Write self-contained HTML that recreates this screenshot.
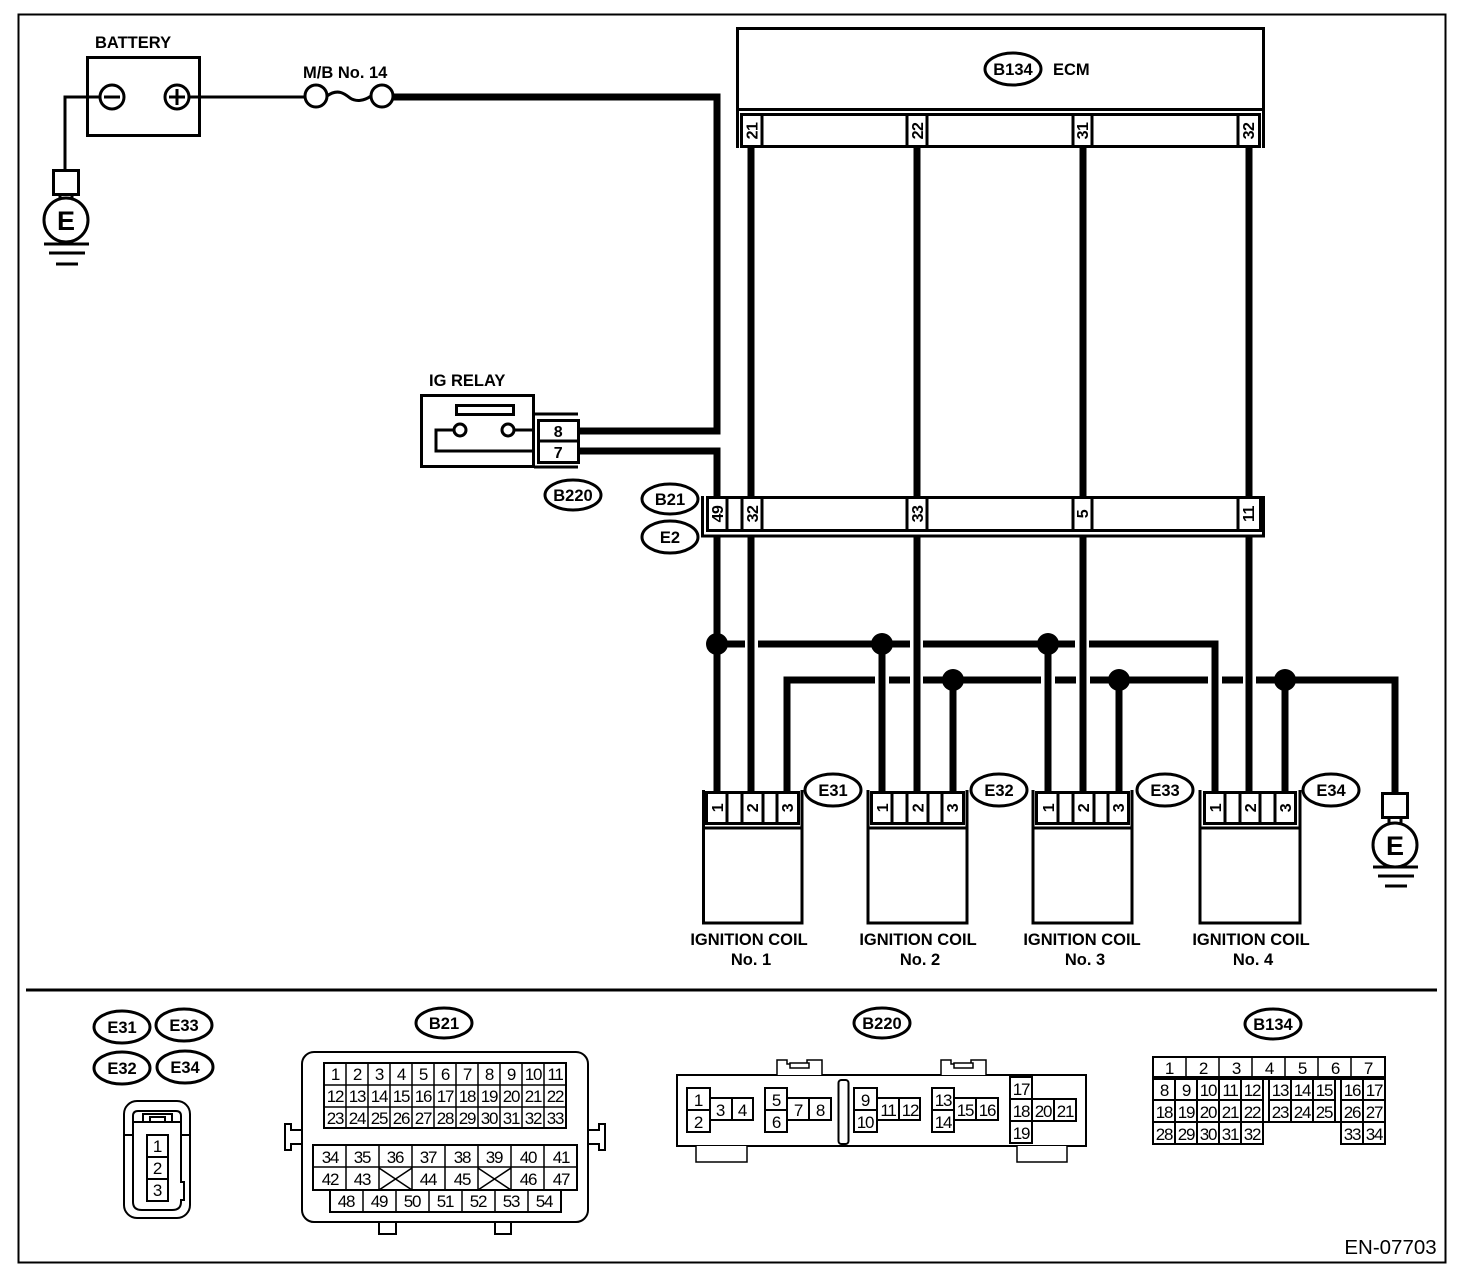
<!DOCTYPE html>
<html><head><meta charset="utf-8"><style>
html,body{margin:0;padding:0;background:#fff}
svg{display:block}
text{font-family:"Liberation Sans",sans-serif;fill:#000;stroke:none;text-anchor:middle}
.b{font-weight:bold;font-size:16.500px}
.l{font-weight:bold;font-size:16.500px;text-anchor:start}
.p{font-weight:bold;font-size:16px;letter-spacing:-.5px}
.g{font-size:17px;letter-spacing:-1.200px}
.t{stroke:#000;stroke-width:7;fill:none}
.m{stroke:#000;stroke-width:3;fill:none}
.s{stroke:#000;stroke-width:2;fill:none}
.o{stroke:#000;stroke-width:3;fill:#fff}
.c{stroke:#000;stroke-width:1.500;fill:#fff}
</style></head><body>
<svg xmlns="http://www.w3.org/2000/svg" width="1472" height="1274" viewBox="0 0 1472 1274">
<rect width="1472" height="1274" fill="#fff"/>
<rect x="18.500" y="14.500" width="1427" height="1248" class="s"/>

<!-- thick wires -->
<path class="t" d="M393 97H717V431H578M578 451H717V497"/>
<path class="t" d="M751 147V497M917 147V497M1083 147V497M1249 147V497"/>
<path class="t" d="M717 536V792M751 536V792M917 536V792M1083 536V792M1249 536V792"/>
<path class="t" d="M717 644H745M758 644H910M923 644H1075M1089 644H1215V792"/>
<path class="t" d="M787 792V680H875M889 680H910M923 680H1041M1055 680H1076M1090 680H1208M1222 680H1243M1256 680H1395V793"/>
<path class="t" d="M882 644V792M1048 644V792M953 680V792M1119 680V792M1285 680V792"/>
<g fill="#000"><circle cx="717" cy="644" r="11"/><circle cx="882" cy="644" r="11"/><circle cx="1048" cy="644" r="11"/><circle cx="953" cy="680" r="11"/><circle cx="1119" cy="680" r="11"/><circle cx="1285" cy="680" r="11"/></g>

<!-- battery -->
<text class="l" x="95" y="48">BATTERY</text>
<rect x="87.500" y="57.500" width="112" height="78" class="m"/>
<path class="m" d="M100 97H65V170M189 97H305"/>
<circle cx="112" cy="97" r="12" class="o"/><path class="m" d="M104 97H120"/>
<circle cx="177" cy="97" r="12" class="o"/><path class="m" d="M169 97H185M177 89V105"/>
<text class="l" x="303" y="78">M/B No. 14</text>
<circle cx="316" cy="96" r="11" class="o"/><circle cx="382" cy="96" r="11" class="o"/>
<path class="m" d="M327 96C338 88 345 94 350 98C356 102 364 101 371 96"/>

<!-- ground 1 -->
<rect x="53.500" y="170.500" width="25" height="24" class="m"/>
<path class="m" d="M60 195V202M72 195V202"/>
<circle cx="66" cy="220" r="22" class="o"/>
<text x="66" y="230" style="font-weight:bold;font-size:27px">E</text>
<path class="m" d="M44 244H89M49 253H85M56 264H78"/>

<!-- ground 2 -->
<rect x="1382.500" y="793.500" width="25" height="24" class="m"/>
<path class="m" d="M1389 818V825M1401 818V825"/>
<circle cx="1395" cy="845" r="22" class="o"/>
<text x="1395" y="855" style="font-weight:bold;font-size:27px">E</text>
<path class="m" d="M1373 867H1418M1378 876H1414M1385 886H1407"/>

<!-- ECM -->
<rect x="737.500" y="28.500" width="526" height="81" class="m" fill="#fff"/>
<ellipse cx="1013" cy="69" rx="28" ry="16" class="o"/>
<text class="b" x="1013" y="75">B134</text>
<text class="l" x="1053" y="75">ECM</text>
<path class="m" d="M737.500 109V148M1263.500 109V148"/>
<rect x="741.500" y="114.500" width="518" height="32" class="m" fill="#fff"/>
<g class="m"><path d="M762 114V146M907 114V146M927 114V146M1073 114V146M1092 114V146M1238 114V146"/></g>
<text class="p" transform="translate(757.500,131) rotate(-90)">21</text>
<text class="p" transform="translate(923,131) rotate(-90)">22</text>
<text class="p" transform="translate(1088,131) rotate(-90)">31</text>
<text class="p" transform="translate(1254,131) rotate(-90)">32</text>

<!-- IG relay -->
<text class="l" x="429" y="386">IG RELAY</text>
<rect x="421.500" y="395.500" width="112" height="71" class="m"/>
<rect x="456.500" y="405.500" width="57" height="9" class="m"/>
<path class="m" d="M454 430H436V451H534M514 430H534M534 414H578M534 467H578"/>
<circle cx="460" cy="430" r="6" class="o"/><circle cx="508" cy="430" r="6" class="o"/>
<rect x="538.500" y="420.500" width="40" height="42" class="m" fill="#fff"/>
<path class="m" d="M538 441H578"/>
<text class="p" x="558" y="437">8</text>
<text class="p" x="558" y="458">7</text>
<ellipse cx="573" cy="495" rx="28" ry="15" class="o"/><text class="b" x="573" y="501">B220</text>
<ellipse cx="670" cy="499" rx="28" ry="15" class="o"/><text class="b" x="670" y="505">B21</text>
<ellipse cx="670" cy="537" rx="28" ry="16" class="o"/><text class="b" x="670" y="543">E2</text>

<!-- B21/E2 inline connector -->
<path class="m" d="M702.500 496V536H1263.500V496"/>
<rect x="707.500" y="497.500" width="553" height="33" class="m" fill="#fff"/>
<path class="m" d="M727 498V530M742 498V530M762 498V530M907 498V530M927 498V530M1073 498V530M1092 498V530M1238 498V530"/>
<text class="p" transform="translate(723,514) rotate(-90)">49</text>
<text class="p" transform="translate(758,514) rotate(-90)">32</text>
<text class="p" transform="translate(923,514) rotate(-90)">33</text>
<text class="p" transform="translate(1088,514) rotate(-90)">5</text>
<text class="p" transform="translate(1254,514) rotate(-90)">11</text>

<!-- coils -->
<path class="m" d="M703.500 790V923H802V790M703 828H802"/>
<rect x="706.500" y="792.500" width="92" height="31" class="m" fill="#fff"/>
<path class="m" d="M727 792V823M742 792V823M763 792V823M777 792V823"/>
<text class="p" transform="translate(723,808) rotate(-90)">1</text>
<text class="p" transform="translate(758,808) rotate(-90)">2</text>
<text class="p" transform="translate(793,808) rotate(-90)">3</text>
<path class="m" d="M868 790V923H967V790M868 828H967"/>
<rect x="871.500" y="792.500" width="92" height="31" class="m" fill="#fff"/>
<path class="m" d="M892 792V823M907 792V823M928 792V823M942 792V823"/>
<text class="p" transform="translate(888,808) rotate(-90)">1</text>
<text class="p" transform="translate(923.500,808) rotate(-90)">2</text>
<text class="p" transform="translate(958,808) rotate(-90)">3</text>
<path class="m" d="M1033 790V923H1132V790M1033 828H1132"/>
<rect x="1036.500" y="792.500" width="92" height="31" class="m" fill="#fff"/>
<path class="m" d="M1058 792V823M1073 792V823M1094 792V823M1108 792V823"/>
<text class="p" transform="translate(1054,808) rotate(-90)">1</text>
<text class="p" transform="translate(1089,808) rotate(-90)">2</text>
<text class="p" transform="translate(1124,808) rotate(-90)">3</text>
<path class="m" d="M1200 790V923H1300V790M1200 828H1300"/>
<rect x="1204.500" y="792.500" width="91" height="31" class="m" fill="#fff"/>
<path class="m" d="M1225 792V823M1240 792V823M1260 792V823M1275 792V823"/>
<text class="p" transform="translate(1221,808) rotate(-90)">1</text>
<text class="p" transform="translate(1256,808) rotate(-90)">2</text>
<text class="p" transform="translate(1291,808) rotate(-90)">3</text>

<ellipse cx="833" cy="790" rx="28" ry="16" class="o"/><text class="b" x="833" y="796">E31</text>
<ellipse cx="999" cy="790" rx="28" ry="16" class="o"/><text class="b" x="999" y="796">E32</text>
<ellipse cx="1165" cy="790" rx="28" ry="16" class="o"/><text class="b" x="1165" y="796">E33</text>
<ellipse cx="1331" cy="790" rx="28" ry="16" class="o"/><text class="b" x="1331" y="796">E34</text>

<text class="b" x="749" y="945">IGNITION COIL</text><text class="b" x="751" y="965">No. 1</text>
<text class="b" x="918" y="945">IGNITION COIL</text><text class="b" x="920" y="965">No. 2</text>
<text class="b" x="1082" y="945">IGNITION COIL</text><text class="b" x="1085" y="965">No. 3</text>
<text class="b" x="1251" y="945">IGNITION COIL</text><text class="b" x="1253" y="965">No. 4</text>

<path d="M26 990H1437" stroke="#000" stroke-width="3"/>

<!-- bottom legend: coil -->
<ellipse cx="122" cy="1027" rx="28" ry="16" class="o"/><text class="b" x="122" y="1033">E31</text>
<ellipse cx="184" cy="1025" rx="28" ry="16" class="o"/><text class="b" x="184" y="1031">E33</text>
<ellipse cx="122" cy="1068" rx="28" ry="16" class="o"/><text class="b" x="122" y="1074">E32</text>
<ellipse cx="185" cy="1067" rx="28" ry="16" class="o"/><text class="b" x="185" y="1073">E34</text>
<rect x="124" y="1101" width="66" height="117" rx="13" class="s"/>
<path class="s" d="M133 1135V1122V1116Q133 1111 138 1111H176Q181 1111 181 1116V1182H184V1200H181V1202Q181 1210 172 1210H142Q133 1210 133 1202V1135M124 1135H133M181 1135H190M133 1122H181"/>
<path class="s" d="M143 1122V1114H172V1122M150 1122V1117H165V1122"/>
<rect x="147" y="1135" width="21" height="66" class="s" fill="#fff"/>
<path class="s" d="M147 1157H168M147 1179H168"/>
<text class="g" x="157" y="1152">1</text><text class="g" x="157" y="1174">2</text><text class="g" x="157" y="1196">3</text>

<!-- B21 -->
<ellipse cx="444" cy="1023" rx="28" ry="15" class="o"/><text class="b" x="444" y="1029">B21</text>
<rect x="302" y="1052" width="286" height="170" rx="12" class="s"/>
<path class="s" d="M302 1130H291V1124H285V1150H291V1144H302M588 1130H599V1124H605V1150H599V1144H588M379 1222V1234H396V1222M495 1222V1234H511V1222"/>
<rect x="324" y="1063" width="242" height="65" class="s"/>
<path class="c" d="M346 1063V1128M368 1063V1128M390 1063V1128M412 1063V1128M434 1063V1128M456 1063V1128M478 1063V1128M500 1063V1128M522 1063V1128M544 1063V1128M324 1085H566M324 1107H566"/>
<g class="g">
<text x="335" y="1080">1</text><text x="357" y="1080">2</text><text x="379" y="1080">3</text><text x="401" y="1080">4</text><text x="423" y="1080">5</text><text x="445" y="1080">6</text><text x="467" y="1080">7</text><text x="489" y="1080">8</text><text x="511" y="1080">9</text><text x="533" y="1080">10</text><text x="555" y="1080">11</text>
<text x="335" y="1102">12</text><text x="357" y="1102">13</text><text x="379" y="1102">14</text><text x="401" y="1102">15</text><text x="423" y="1102">16</text><text x="445" y="1102">17</text><text x="467" y="1102">18</text><text x="489" y="1102">19</text><text x="511" y="1102">20</text><text x="533" y="1102">21</text><text x="555" y="1102">22</text>
<text x="335" y="1124">23</text><text x="357" y="1124">24</text><text x="379" y="1124">25</text><text x="401" y="1124">26</text><text x="423" y="1124">27</text><text x="445" y="1124">28</text><text x="467" y="1124">29</text><text x="489" y="1124">30</text><text x="511" y="1124">31</text><text x="533" y="1124">32</text><text x="555" y="1124">33</text>
</g>
<rect x="313" y="1145" width="264" height="45" class="s"/>
<path class="c" d="M346 1145V1190M379 1145V1190M412 1145V1190M445 1145V1190M478 1145V1190M511 1145V1190M544 1145V1190M313 1167H577M379 1168L412 1190M412 1168L379 1190M478 1168L511 1190M511 1168L478 1190"/>
<rect x="330" y="1190" width="231" height="22" class="s"/>
<path class="c" d="M363 1190V1212M396 1190V1212M429 1190V1212M462 1190V1212M495 1190V1212M528 1190V1212"/>
<g class="g">
<text x="330" y="1163">34</text><text x="362" y="1163">35</text><text x="395" y="1163">36</text><text x="428" y="1163">37</text><text x="462" y="1163">38</text><text x="494" y="1163">39</text><text x="528" y="1163">40</text><text x="561" y="1163">41</text>
<text x="330" y="1185">42</text><text x="362" y="1185">43</text><text x="428" y="1185">44</text><text x="462" y="1185">45</text><text x="528" y="1185">46</text><text x="561" y="1185">47</text>
<text x="346" y="1207">48</text><text x="379" y="1207">49</text><text x="412" y="1207">50</text><text x="445" y="1207">51</text><text x="478" y="1207">52</text><text x="511" y="1207">53</text><text x="544" y="1207">54</text>
</g>

<!-- B220 -->
<ellipse cx="882" cy="1023" rx="28" ry="15" class="o"/><text class="b" x="882" y="1029">B220</text>
<rect x="677" y="1075" width="409" height="71" class="s"/>
<path class="c" d="M777 1075V1060H787V1064H807V1060H822V1075M941 1075V1060H951V1064H971V1060H986V1075M696 1146V1162H747V1146M1017 1146V1162H1067V1146"/>
<rect x="790" y="1063" width="19" height="5" class="c"/><rect x="954" y="1063" width="19" height="5" class="c"/>
<rect x="838.500" y="1080" width="10" height="64" rx="3" class="s"/>
<g class="s">
<rect x="687" y="1088" width="23" height="44"/><path d="M687 1110H710"/><rect x="710" y="1098" width="43" height="22"/><path d="M732 1098V1120"/>
<rect x="765" y="1088" width="22" height="44"/><path d="M765 1110H787"/><rect x="787" y="1098" width="44" height="22"/><path d="M809 1098V1120"/>
<rect x="854" y="1088" width="23" height="44"/><path d="M854 1110H877"/><rect x="877" y="1098" width="43" height="22"/><path d="M899 1098V1120"/>
<rect x="932" y="1088" width="22" height="44"/><path d="M932 1110H954"/><rect x="954" y="1098" width="44" height="22"/><path d="M976 1098V1120"/>
<rect x="1010" y="1077" width="22" height="66"/><path d="M1010 1099H1032M1010 1121H1032"/><rect x="1032" y="1099" width="44" height="22"/><path d="M1054 1099V1121"/>
</g>
<g class="g">
<text x="698" y="1106">1</text><text x="698" y="1128">2</text><text x="720" y="1116">3</text><text x="742" y="1116">4</text>
<text x="776" y="1106">5</text><text x="776" y="1128">6</text><text x="798" y="1116">7</text><text x="820" y="1116">8</text>
<text x="865" y="1106">9</text><text x="865" y="1128">10</text><text x="888" y="1116">11</text><text x="910" y="1116">12</text>
<text x="943" y="1106">13</text><text x="943" y="1128">14</text><text x="965" y="1116">15</text><text x="987" y="1116">16</text>
<text x="1021" y="1095">17</text><text x="1021" y="1117">18</text><text x="1021" y="1139">19</text><text x="1043" y="1117">20</text><text x="1065" y="1117">21</text>
</g>

<!-- B134 -->
<ellipse cx="1273" cy="1024" rx="28" ry="15" class="o"/><text class="b" x="1273" y="1030">B134</text>
<rect x="1153" y="1057" width="232" height="20" class="s"/>
<path class="c" d="M1186 1057V1077M1219 1057V1077M1252 1057V1077M1285 1057V1077M1318 1057V1077M1351 1057V1077"/>
<g class="s">
<rect x="1153" y="1079" width="110" height="65"/>
<path d="M1175 1079V1144M1197 1079V1144M1219 1079V1144M1241 1079V1144M1153 1100H1263M1153 1122H1263"/>
<rect x="1263" y="1079" width="6" height="43"/>
<rect x="1269" y="1079" width="66" height="43"/>
<path d="M1291 1079V1122M1313 1079V1122M1269 1100H1335"/>
<rect x="1335" y="1079" width="6" height="43"/>
<rect x="1341" y="1079" width="44" height="65"/>
<path d="M1363 1079V1144M1341 1100H1385M1341 1122H1385"/>
</g>
<g class="g">
<text x="1169" y="1074">1</text><text x="1203" y="1074">2</text><text x="1236" y="1074">3</text><text x="1269" y="1074">4</text><text x="1302" y="1074">5</text><text x="1335" y="1074">6</text><text x="1368" y="1074">7</text>
<text x="1164" y="1096">8</text><text x="1186" y="1096">9</text><text x="1208" y="1096">10</text><text x="1230" y="1096">11</text><text x="1252" y="1096">12</text><text x="1280" y="1096">13</text><text x="1302" y="1096">14</text><text x="1324" y="1096">15</text><text x="1352" y="1096">16</text><text x="1374" y="1096">17</text>
<text x="1164" y="1118">18</text><text x="1186" y="1118">19</text><text x="1208" y="1118">20</text><text x="1230" y="1118">21</text><text x="1252" y="1118">22</text><text x="1280" y="1118">23</text><text x="1302" y="1118">24</text><text x="1324" y="1118">25</text><text x="1352" y="1118">26</text><text x="1374" y="1118">27</text>
<text x="1164" y="1140">28</text><text x="1186" y="1140">29</text><text x="1208" y="1140">30</text><text x="1230" y="1140">31</text><text x="1252" y="1140">32</text><text x="1352" y="1140">33</text><text x="1374" y="1140">34</text>
</g>

<text x="1390.500" y="1254" style="font-size:20.500px">EN-07703</text>
</svg>
</body></html>
